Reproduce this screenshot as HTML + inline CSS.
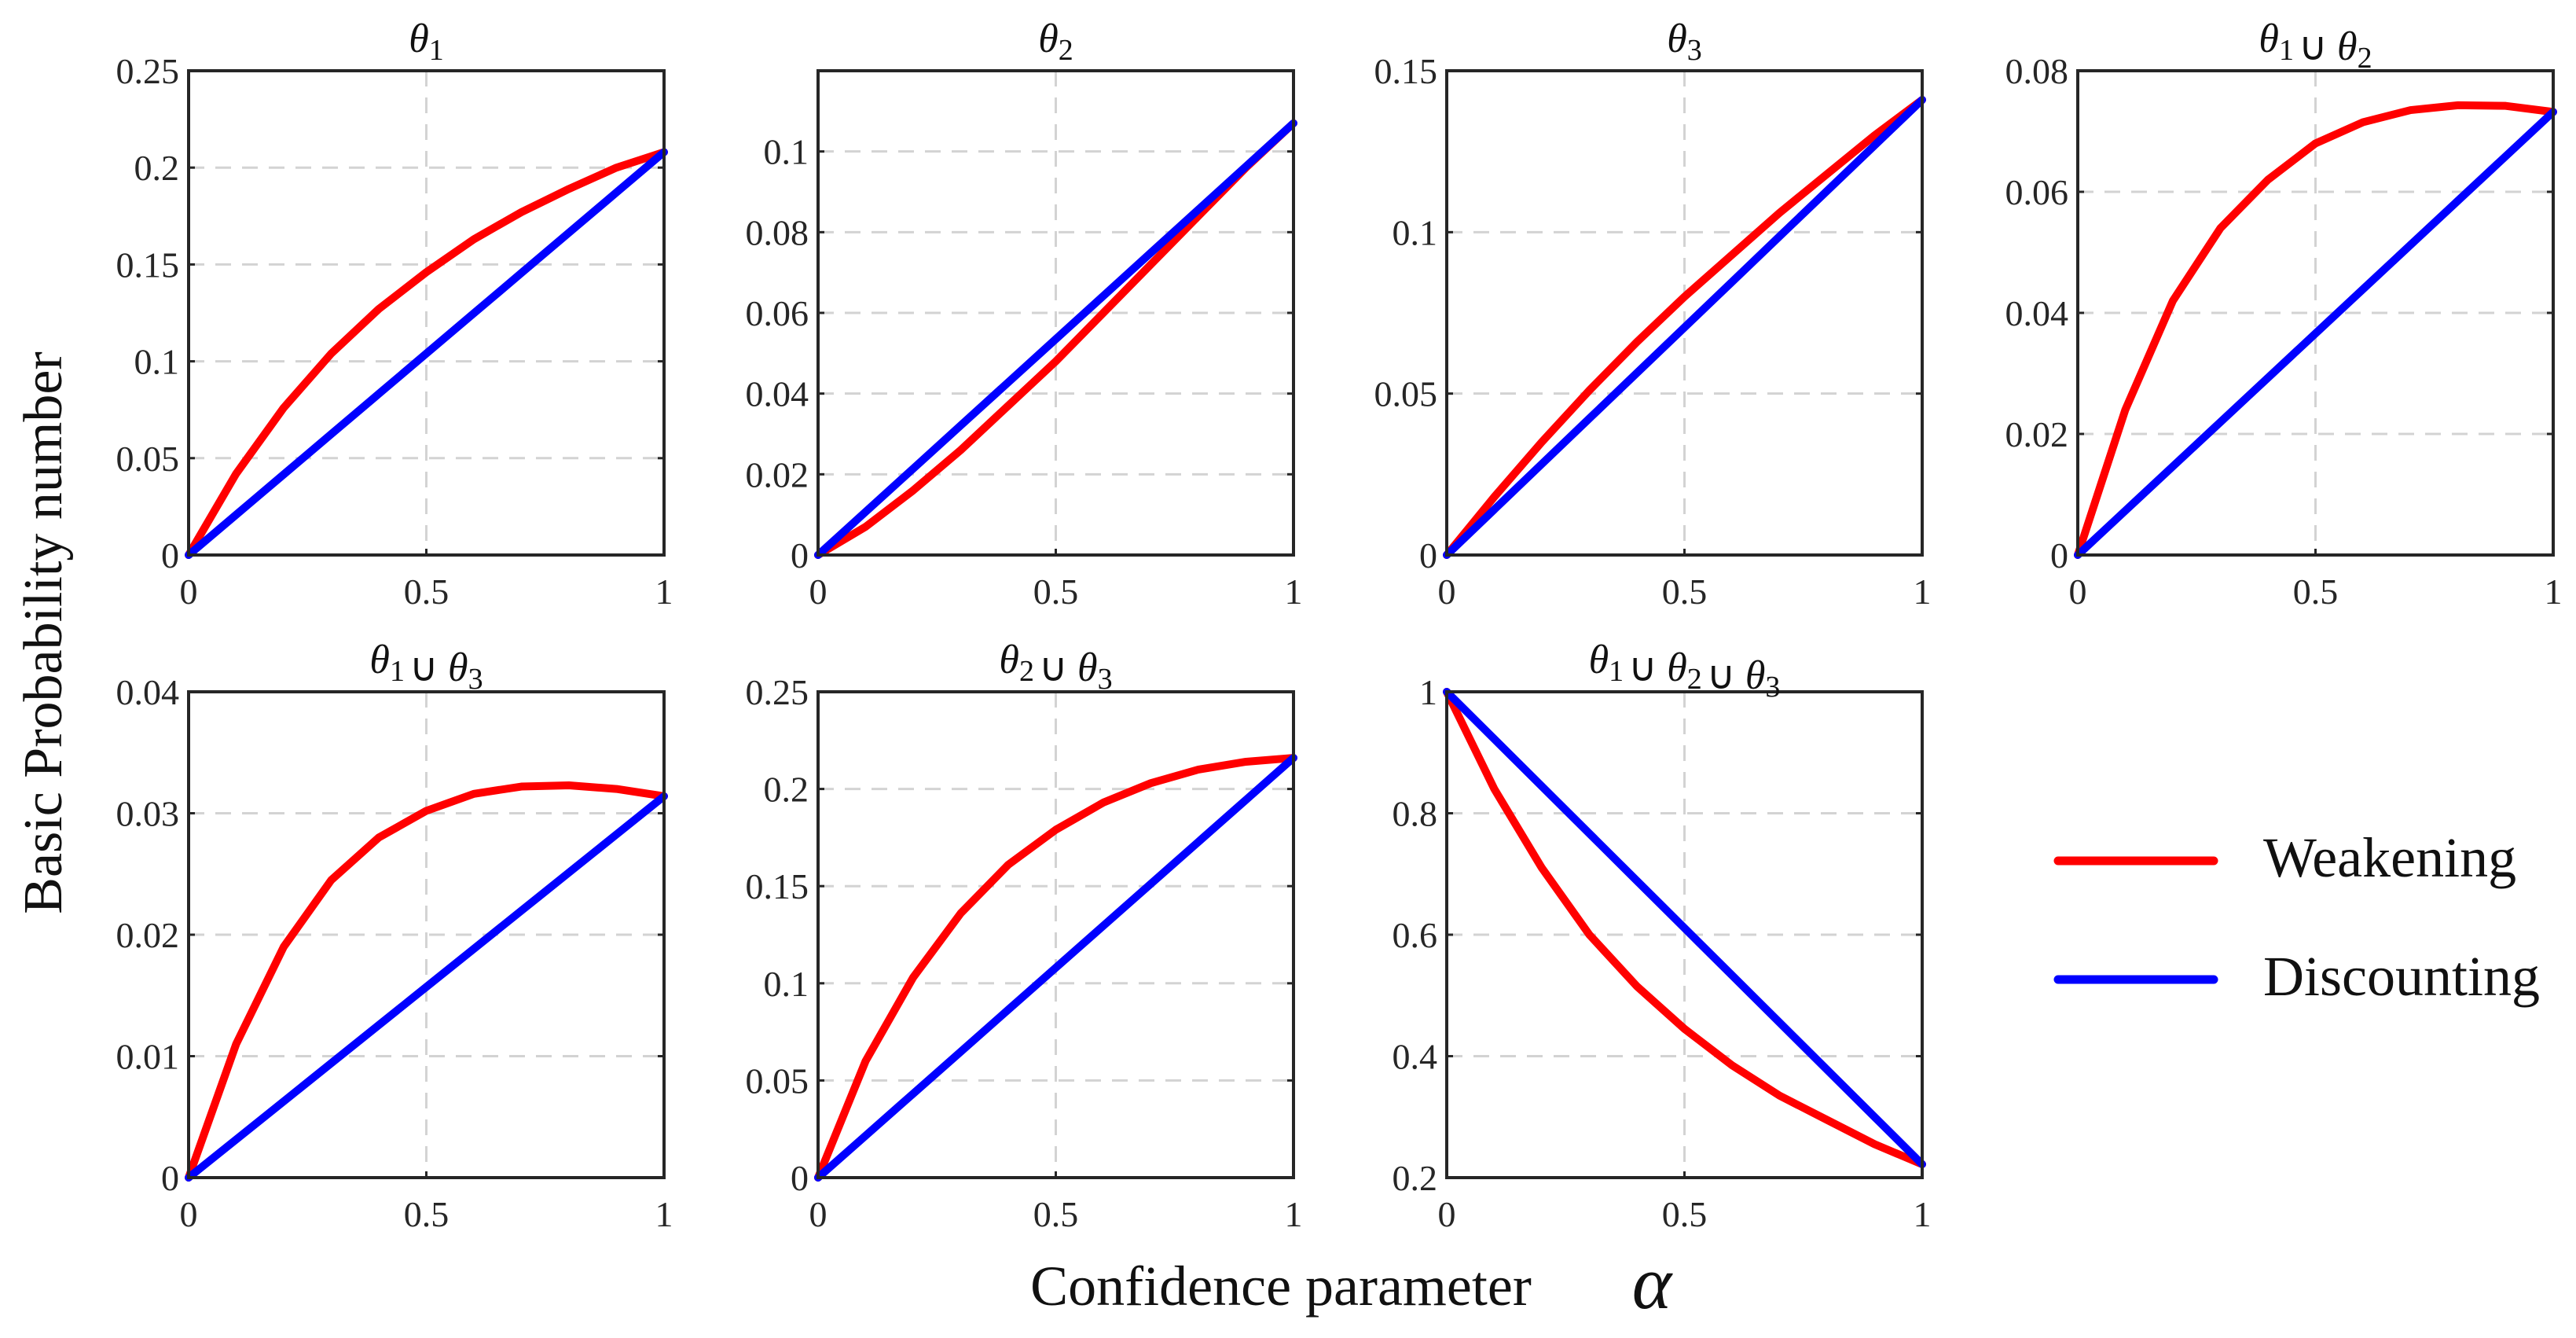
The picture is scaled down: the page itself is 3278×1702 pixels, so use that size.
<!DOCTYPE html>
<html><head><meta charset="utf-8"><style>
html,body{margin:0;padding:0;background:#fff;}
svg{display:block;font-family:"Liberation Serif",serif;}
</style></head><body>
<svg id="fig" width="3278" height="1702" viewBox="0 0 3278 1702" xmlns="http://www.w3.org/2000/svg">
<text x="0" y="0" transform="translate(78,805) rotate(-90)" text-anchor="middle" font-size="70" fill="#111">Basic Probability number</text>
<text x="1630" y="1660" text-anchor="middle" font-size="72" fill="#111">Confidence parameter</text>
<text x="2102" y="1664" text-anchor="middle" font-size="96" font-style="italic" fill="#111">α</text>
<line x1="2619" y1="1095" x2="2817" y2="1095" stroke="#ff0000" stroke-width="11" stroke-linecap="round"/>
<text x="2880" y="1115" font-size="72" fill="#111">Weakening</text>
<line x1="2619" y1="1246" x2="2817" y2="1246" stroke="#0000ff" stroke-width="11" stroke-linecap="round"/>
<text x="2880" y="1266" font-size="72" fill="#111">Discounting</text>
</svg>
<script>
const alphas=[0,0.1,0.2,0.3,0.4,0.5,0.6,0.7,0.8,0.9,1];
const xTicks=[0,0.5,1];
const xTickLabels=["0","0.5","1"];
const titles=["θ1","θ2","θ3","θ1∪θ2","θ1∪θ3","θ2∪θ3","θ1∪θ2∪θ3"];
const weak1=[0,0.042,0.076,0.104,0.127,0.146,0.163,0.177,0.189,0.200,0.208];
const disc1=[0,0.0208,0.0416,0.0624,0.0832,0.104,0.1248,0.1456,0.1664,0.1872,0.208];
const weak2=[0,0.007,0.016,0.026,0.037,0.048,0.060,0.072,0.084,0.096,0.107];
const disc2=[0,0.0107,0.0214,0.0321,0.0428,0.0535,0.0642,0.0749,0.0856,0.0963,0.107];
const weak3=[0,0.018,0.035,0.051,0.066,0.080,0.093,0.106,0.118,0.130,0.141];
const disc3=[0,0.0141,0.0282,0.0423,0.0564,0.0705,0.0846,0.0987,0.1128,0.1269,0.141];
const weak12=[0,0.024,0.042,0.054,0.062,0.068,0.0715,0.0735,0.0743,0.0742,0.0732];
const disc12=[0,0.00732,0.01464,0.02196,0.02928,0.0366,0.04392,0.05124,0.05856,0.06588,0.0732];
const weak13=[0,0.011,0.019,0.0245,0.028,0.0302,0.0316,0.0322,0.0323,0.032,0.0314];
const disc13=[0,0.00314,0.00628,0.00942,0.01256,0.0157,0.01884,0.02198,0.02512,0.02826,0.0314];
const weak23=[0,0.06,0.103,0.136,0.161,0.179,0.193,0.203,0.210,0.214,0.216];
const disc23=[0,0.0216,0.0432,0.0648,0.0864,0.108,0.1296,0.1512,0.1728,0.1944,0.216];
const weak123=[1,0.84,0.71,0.60,0.515,0.445,0.385,0.335,0.295,0.255,0.222];
const disc123=[1,0.9222,0.8444,0.7666,0.6888,0.611,0.5332,0.4554,0.3776,0.2998,0.222];
const yTicks1=[0,0.05,0.1,0.15,0.2,0.25];
const yTicks2=[0,0.02,0.04,0.06,0.08,0.1];
const yTicks3=[0,0.05,0.1,0.15];
const yTicks12=[0,0.02,0.04,0.06,0.08];
const yTicks13=[0,0.01,0.02,0.03,0.04];
const yTicks23=[0,0.05,0.1,0.15,0.2,0.25];
const yTicks123=[0.2,0.4,0.6,0.8,1];
const yRanges=[[0,0.25],[0,0.12],[0,0.15],[0,0.08],[0,0.04],[0,0.25],[0.2,1]];

const panels=[
 {w:weak1,d:disc1,t:yTicks1},{w:weak2,d:disc2,t:yTicks2},{w:weak3,d:disc3,t:yTicks3},
 {w:weak12,d:disc12,t:yTicks12},{w:weak13,d:disc13,t:yTicks13},{w:weak23,d:disc23,t:yTicks23},
 {w:weak123,d:disc123,t:yTicks123}];
const lefts=[240,1041,1841,2644];
const PW=605, rows=[[90,706],[880,1498]];
const NS="http://www.w3.org/2000/svg";
const svg=document.getElementById('fig');
function mk(tag,attrs,parent){const e=document.createElementNS(NS,tag);for(const k in attrs)e.setAttribute(k,attrs[k]);(parent||svg).appendChild(e);return e;}
function titleNode(g,str,x,y){
  const t=mk('text',{x:x,y:y,'text-anchor':'middle','font-size':50,fill:'#111'},g);
  
  
  for(const ch of str){
    if(ch==='θ'){const s=mk('tspan',{'font-style':'italic','font-size':52},t);s.textContent='θ';}
    else if(ch==='∪'){const s=mk('tspan',{'font-size':50,dx:6},t);s.textContent='∪ ';}
    else {const s=mk('tspan',{'font-size':38,dy:10},t);s.textContent=ch;const s2=mk('tspan',{dy:-10,'font-size':38},t);s2.textContent='';}
  }
}
panels.forEach((p,i)=>{
  const col=i%4,row=Math.floor(i/4);
  const L=lefts[col],R=L+PW,T=rows[row][0],B=rows[row][1];
  const [y0,y1]=yRanges[i];
  const xs=v=>L+v*(R-L);
  const ys=v=>B-(v-y0)/(y1-y0)*(B-T);
  const g=mk('g',{});
  
  
  mk('rect',{x:L,y:T,width:PW,height:B-T,fill:'#fff'},g);
  xTicks.forEach((v,k)=>{
    if(v>0&&v<1){const gl=mk('line',{x1:xs(v),y1:T,x2:xs(v),y2:B,stroke:'#d3d3d3','stroke-width':3,'stroke-dasharray':'20,14'},g);
      }
    const tk=mk('line',{x1:xs(v),y1:B,x2:xs(v),y2:B-8,stroke:'#262626','stroke-width':3},g);
    
    const tl=mk('text',{x:xs(v),y:B+62,'text-anchor':'middle','font-size':46,fill:'#262626'},g);
    
    tl.textContent=xTickLabels[k];
  });
  p.t.forEach(v=>{
    const y=ys(v);
    if(v>y0&&v<y1){const gl=mk('line',{x1:L,y1:y,x2:R,y2:y,stroke:'#d3d3d3','stroke-width':3,'stroke-dasharray':'20,14'},g);
      }
    const tk=mk('line',{x1:L,y1:y,x2:L+8,y2:y,stroke:'#262626','stroke-width':3},g);
    
    const tk2=mk('line',{x1:R,y1:y,x2:R-8,y2:y,stroke:'#262626','stroke-width':3},g);
    
    const tl=mk('text',{x:L-12,y:y+16,'text-anchor':'end','font-size':46,fill:'#262626'},g);
    
    tl.textContent=String(v);
  });
  const wl=mk('polyline',{points:alphas.map((a,k)=>xs(a)+','+ys(p.w[k])).join(' '),fill:'none',stroke:'#ff0000','stroke-width':10,'stroke-linejoin':'round','stroke-linecap':'round'},g);
  
  const dl=mk('polyline',{points:alphas.map((a,k)=>xs(a)+','+ys(p.d[k])).join(' '),fill:'none',stroke:'#0000ff','stroke-width':10,'stroke-linejoin':'round','stroke-linecap':'round'},g);
  
  const fr=mk('rect',{x:L,y:T,width:PW,height:B-T,fill:'none',stroke:'#262626','stroke-width':4},g);
  
  titleNode(g,titles[i],(L+R)/2,T-24);
});
</script>
</body></html>
